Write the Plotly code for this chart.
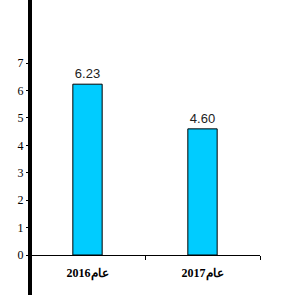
import plotly.graph_objects as go

categories = ["عام2016", "عام2017"]
values = [6.23, 4.60]
value_labels = ["6.23", "4.60"]
y_ticks = [0, 1, 2, 3, 4, 5, 6, 7]

fig = go.Figure()
fig.add_trace(go.Bar(
    x=categories, y=values,
    text=value_labels, textposition="outside", cliponaxis=False,
    textfont=dict(family="Liberation Sans, Arial", size=13, color="#222222"),
    marker=dict(color="#00CCFF", line=dict(color="#000000", width=1)),
    width=0.255,
))
fig.update_layout(
    width=292, height=295,
    margin=dict(l=30, r=32, t=0, b=40),
    paper_bgcolor="white", plot_bgcolor="white",
    showlegend=False,
    xaxis=dict(
        showline=True, linecolor="#000000", linewidth=1,
        ticks="outside", ticklen=4, tickcolor="#000000", tickson="boundaries",
        tickvals=categories, ticktext=["<b>" + c + "</b>" for c in categories],
        tickfont=dict(family="Liberation Serif, Times New Roman", size=12, color="#000000"),
        showgrid=False, range=[-0.5, 1.5], ticklabelstandoff=7,
    ),
    yaxis=dict(
        range=[0, 9.3], tickvals=y_ticks, ticktext=[str(v) for v in y_ticks],
        ticks="outside", ticklen=3, tickcolor="#000000",
        tickfont=dict(family="Liberation Serif, Times New Roman", size=12, color="#000000"),
        showgrid=False, zeroline=False, showline=False,
    ),
    font=dict(family="Liberation Serif", size=12),
)
fig.add_shape(type="line", xref="paper", yref="paper", x0=0, x1=0, y0=-0.2, y1=1.0,
              line=dict(color="#000000", width=4), layer="above")
fig.write_html("out.html")
